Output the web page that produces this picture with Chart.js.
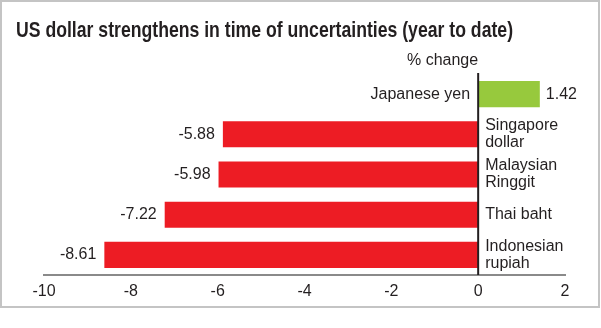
<!DOCTYPE html>
<html>
<head>
<meta charset="utf-8">
<script src="https://cdn.jsdelivr.net/npm/chart.js@4/dist/chart.umd.min.js"></script>
<style>
  body { margin: 0; background: #fff; }
  #wrap { position: relative; width: 601px; height: 328px; }
  #frame { position: absolute; left: 0; top: 0; width: 596px; height: 304px; border: 2px solid #c4c4c4; pointer-events: none; }
</style>
</head>
<body>
<div id="wrap">
  <canvas id="fx" width="601" height="328"></canvas>
  <div id="frame"></div>
</div>
<script>
var currencies = [["Japanese yen"], ["Singapore", "dollar"], ["Malaysian", "Ringgit"], ["Thai baht"], ["Indonesian", "rupiah"]];
var changes = [1.42, -5.88, -5.98, -7.22, -8.61];
var tickValues = [-10, -8, -6, -4, -2, 0, 2];

var titleText = "US dollar strengthens in time of uncertainties (year to date)";
var unitText = "% change";
var ink = "#231f20";
var font = "16px 'Liberation Sans', Arial, sans-serif";

// names, values, zero line and headings
var labelPlugin = {
    id: 'labels',
    afterDraw: function (chart) {
        var ctx = chart.ctx;
        var xs = chart.scales.x;
        var x0 = xs.getPixelForValue(0);
        var area = chart.chartArea;
        var meta = chart.getDatasetMeta(0);

        ctx.save();
        ctx.strokeStyle = ink;
        ctx.lineWidth = 2;
        ctx.beginPath();
        ctx.moveTo(x0, area.top - 1);
        ctx.lineTo(x0, area.bottom);
        ctx.stroke();

        ctx.fillStyle = ink;
        ctx.font = font;
        ctx.textBaseline = 'middle';
        meta.data.forEach(function (bar, i) {
            var v = changes[i];
            var name = currencies[i];
            var y = bar.y;
            if (v < 0) {
                ctx.textAlign = 'right';
                ctx.fillText(v.toFixed(2), bar.x - 8, y);
                ctx.textAlign = 'left';
                name.forEach(function (line, j) {
                    ctx.fillText(line, x0 + 7, y + (j - (name.length - 1) / 2) * 17);
                });
            } else {
                ctx.textAlign = 'left';
                ctx.fillText(v.toFixed(2), bar.x + 6, y);
                ctx.textAlign = 'right';
                name.forEach(function (line, j) {
                    ctx.fillText(line, x0 - 8, y + (j - (name.length - 1) / 2) * 17);
                });
            }
        });

        ctx.textAlign = 'right';
        ctx.fillText(unitText, x0, 61);

        // condensed heavy title: squeeze to the width it has in the print
        ctx.font = "bold 22px 'Liberation Sans', Arial, sans-serif";
        ctx.textAlign = 'left';
        ctx.textBaseline = 'alphabetic';
        var w = ctx.measureText(titleText).width;
        ctx.translate(16, 37);
        ctx.scale(497 / w, 1);
        ctx.fillText(titleText, 0, 0);
        ctx.restore();
    }
};

var ctx = document.getElementById("fx");

var fxChart = new Chart(ctx, {
    type: 'bar',
    data: {
        labels: currencies,
        datasets: [{
            data: changes,
            backgroundColor: changes.map(function (v) { return v < 0 ? '#ed1c24' : '#97c93d'; }),
            barPercentage: 0.65,
            categoryPercentage: 1
        }]
    },
    options: {
        indexAxis: 'y',
        responsive: false,
        animation: false,
        layout: { padding: { left: 44, right: 36, top: 74, bottom: 27 } },
        plugins: {
            legend: { display: false },
            tooltip: { enabled: false }
        },
        scales: {
            x: {
                min: -10,
                max: 2,
                afterBuildTicks: function (axis) {
                    axis.ticks = tickValues.map(function (v) { return { value: v }; });
                },
                afterFit: function (axis) {
                    axis.height = 26;
                },
                grid: { display: false, drawTicks: false },
                border: { display: true, color: '#8a8a8a', width: 2 },
                ticks: {
                    color: ink,
                    padding: 7,
                    font: { family: "'Liberation Sans', Arial, sans-serif", size: 16 }
                }
            },
            y: { display: false }
        }
    },
    plugins: [labelPlugin]
});
</script>
</body>
</html>
